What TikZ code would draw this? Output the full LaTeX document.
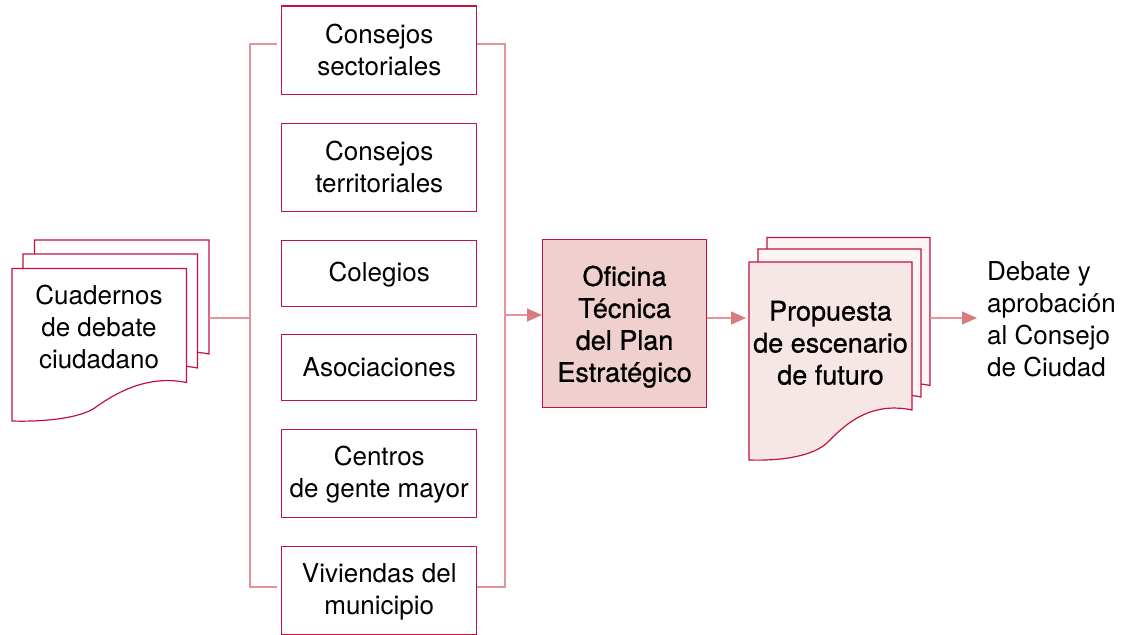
\documentclass[tikz,border=0pt]{standalone}
\usepackage{fontspec}
\setmainfont{TeX Gyre Heros}
\newfontfamily\medfont[FakeBold=0.9]{TeX Gyre Heros}
\usetikzlibrary{arrows.meta}
\definecolor{edgeRed}{HTML}{C2123F}
\definecolor{linkPink}{HTML}{E4949A}
\definecolor{tipRed}{HTML}{D97C7E}
\definecolor{officeFill}{HTML}{F0D0CE}
\definecolor{docFill}{HTML}{F7E6E6}
\definecolor{docBack}{HTML}{FBF5F5}
\newcommand{\tl}{\rule[-4.5pt]{0pt}{27pt}}
\newcommand{\tm}{\rule[-4.5pt]{0pt}{27pt}}
\newcommand{\tof}{\rule[-2.5pt]{0pt}{29pt}}
\tikzset{
  x=1pt,y=-1pt,
  txt/.style={font=\fontsize{26}{32}\selectfont,text=black,align=center,inner sep=0pt},
  medtxt/.style={font=\fontsize{27}{32}\medfont\selectfont,text=black,align=center,inner sep=0pt},
  boxA/.style={draw=edgeRed,line width=1.1pt,fill=white,minimum width=195pt,inner sep=0pt,txt,anchor=north west},
  sheet/.style={draw=edgeRed,line width=1.2pt,line join=miter},
  link/.style={draw=linkPink,line width=1.3pt},
  flow/.style={draw=linkPink,line width=1.3pt,-{Triangle[length=15pt,width=13pt,color=tipRed]}},
}
\newcommand{\docA}[3]{%
  \path[shift={(#1,#2)},sheet,fill=#3] (0,0) -- (174.5,0) -- (174.5,114) .. controls (140,107) and (110,120) .. (84.7,138) .. controls (70,150) and (30,153.5) .. (0,152.5) -- cycle;}
\newcommand{\docB}[3]{%
  \path[shift={(#1,#2)},sheet,fill=#3] (0,0) -- (163,0) -- (163,148) .. controls (125,140) and (100,158) .. (80,179) .. controls (65,195) and (30,199) .. (0,198) -- cycle;}
\begin{document}
\begin{tikzpicture}
\useasboundingbox (0,0) rectangle (1123,634);
\clip (0,0) rectangle (1123,634);
% bus lines
\coordinate (busLT) at (250,44);
\coordinate (busLB) at (250,587);
\coordinate (busRT) at (505,44);
\coordinate (busRB) at (505,587);
\coordinate (busLM) at (250,318);
\coordinate (busRM) at (505,315);
% boxes
\node[boxA,minimum height=88pt] (b1) at (281.2,5.5) {\tl Consejos\\\tl sectoriales};
\node[boxA,minimum height=88pt] (b2) at (281.2,122.5) {\tl Consejos\\\tl territoriales};
\node[boxA,minimum height=66pt] (b3) at (281.2,239.5) {\tl Colegios};
\node[boxA,minimum height=66pt] (b4) at (281.2,333.5) {\tl Asociaciones};
\node[boxA,minimum height=88pt] (b5) at (281.2,428.5) {\tl Centros\\\tl de gente mayor};
\node[boxA,minimum height=88pt] (b6) at (281.2,545.5) {\tl Viviendas del\\\tl municipio};
% left documents
\docA{34.5}{240}{white}
\docA{23}{254}{white}
\docA{12}{268.5}{white}
\node[txt] (d1) at (99,327) {\tl Cuadernos\\\tl de debate\\\tl ciudadano};
\coordinate (d1out) at (209,318);
% office
\node[draw=edgeRed,line width=1.1pt,fill=officeFill,minimum width=164pt,minimum height=168pt,inner sep=0pt,medtxt,anchor=north west] (of) at (542,239) {\tof Oficina\\\tof Técnica\\\tof del Plan\\\tof Estratégico};
% right documents
\docB{767}{237.5}{docBack}
\docB{758}{249}{docBack}
\docB{749}{262}{docFill}
\node[medtxt] (d2) at (830.5,343.5) {\tm Propuesta\\\tm de escenario\\\tm de futuro};
\coordinate (d2in) at (746,318);
\coordinate (d2out) at (930,318);
\node[txt,align=left,anchor=west] (res) at (987,319) {\tl Debate y\\\tl aprobación\\\tl al Consejo\\\tl de Ciudad};
\coordinate (resin) at (977,318);
% connectors
\draw[link] ([xshift=-4pt]b1.west |- busLT) -- (busLT) -- (busLB) -- ([xshift=-4pt]b6.west |- busLB);
\draw[link] (b1.east |- busRT) -- (busRT) -- (busRB) -- (b6.east |- busRB);
\draw[link] (d1out) -- (busLM);
\draw[flow] (busRM) -- (of.west |- busRM);
\draw[flow] (of.east |- d2in) -- (d2in);
\draw[flow] (d2out) -- (resin);
\end{tikzpicture}
\end{document}
